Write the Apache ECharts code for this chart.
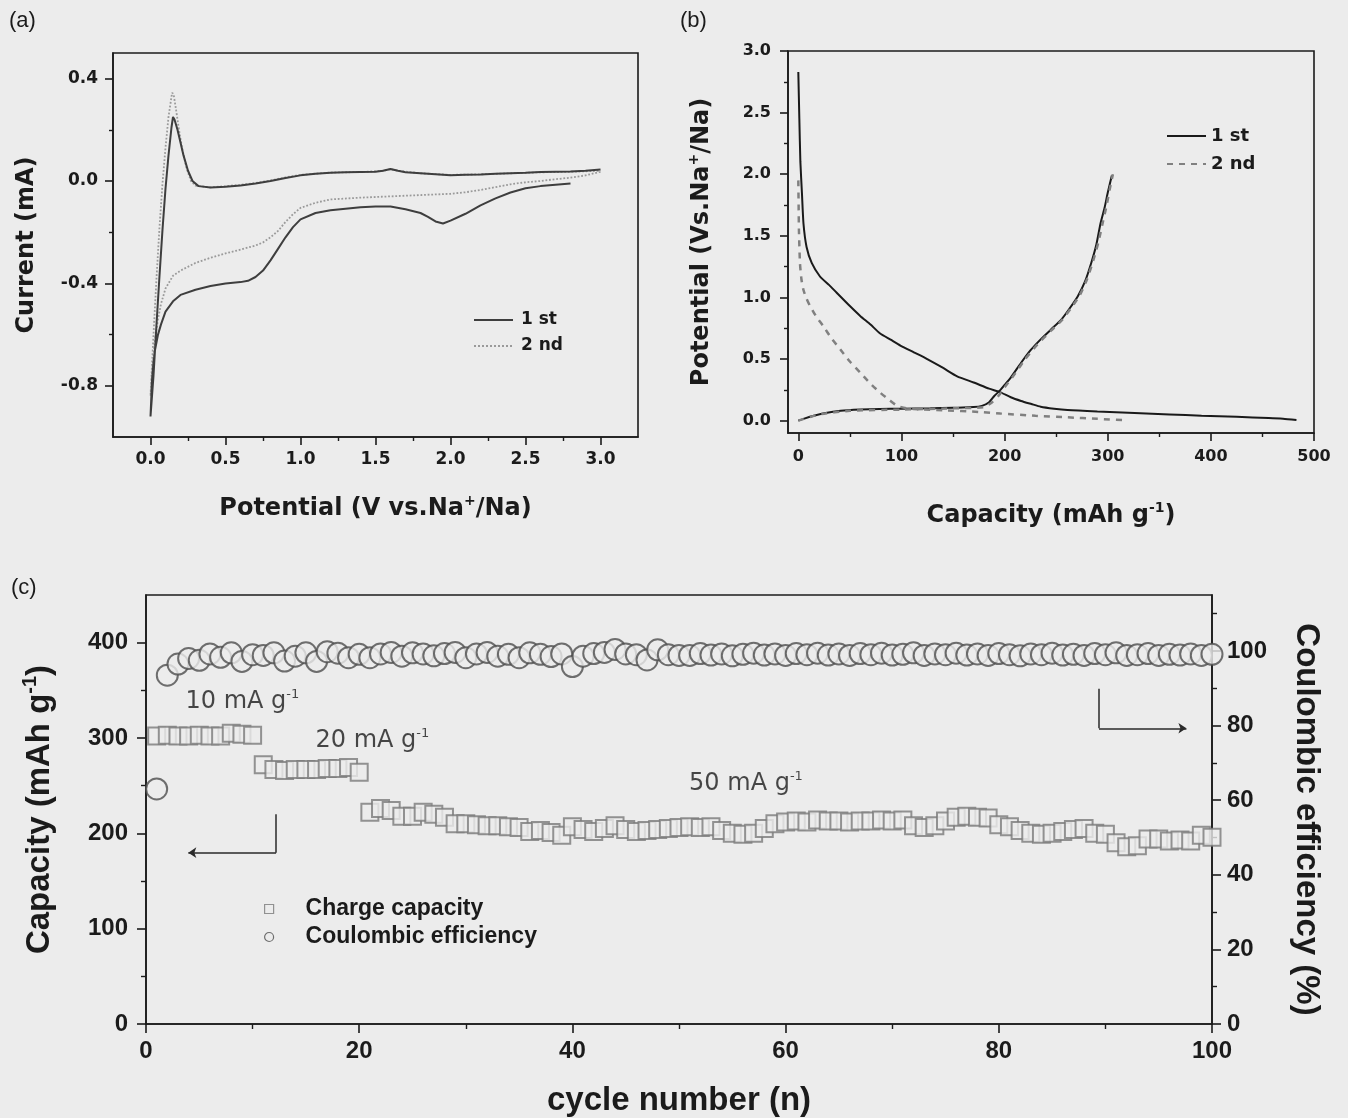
<!DOCTYPE html>
<html><head><meta charset="utf-8">
<script src="https://cdn.jsdelivr.net/npm/echarts@6/dist/echarts.min.js"></script>
<style>html,body{margin:0;padding:0;background:#ececec;}#c{width:1348px;height:1118px;}</style>
</head><body><div id="c"></div>
<script>
// ---------- (a) cyclic voltammetry ----------
const cv1Potential = [2.80,2.70,2.60,2.50,2.40,2.30,2.20,2.10,2.00,1.95,1.90,1.85,1.80,1.70,1.60,1.50,1.40,1.30,1.20,1.10,1.00,0.95,0.90,0.85,0.80,0.75,0.70,0.65,0.60,0.50,0.40,0.30,0.20,0.15,0.10,0.07,0.05,0.03,0.02,0.01,0.00,
  0.02,0.04,0.06,0.08,0.10,0.12,0.14,0.15,0.16,0.18,0.20,0.22,0.25,0.28,0.32,0.40,0.50,0.60,0.70,0.80,0.90,1.00,1.10,1.20,1.30,1.40,1.50,1.55,1.60,1.65,1.70,1.80,1.90,2.00,2.10,2.20,2.30,2.40,2.50,2.60,2.70,2.80,2.90,3.00];
const cv1Current = [-0.010,-0.015,-0.020,-0.028,-0.045,-0.068,-0.095,-0.128,-0.155,-0.166,-0.158,-0.140,-0.125,-0.110,-0.100,-0.100,-0.103,-0.108,-0.114,-0.125,-0.150,-0.180,-0.220,-0.265,-0.310,-0.350,-0.375,-0.390,-0.395,-0.400,-0.410,-0.425,-0.445,-0.470,-0.510,-0.560,-0.600,-0.660,-0.710,-0.780,-0.920,
  -0.760,-0.560,-0.370,-0.190,-0.030,0.100,0.210,0.250,0.240,0.200,0.150,0.100,0.040,0.000,-0.020,-0.025,-0.022,-0.018,-0.010,0.000,0.012,0.022,0.028,0.032,0.034,0.035,0.036,0.040,0.047,0.040,0.034,0.030,0.026,0.022,0.024,0.025,0.028,0.030,0.032,0.035,0.036,0.037,0.040,0.045];
const cv2Potential = [3.00,2.90,2.80,2.70,2.60,2.50,2.40,2.30,2.20,2.10,2.00,1.80,1.60,1.40,1.20,1.10,1.00,0.95,0.90,0.85,0.80,0.75,0.70,0.60,0.50,0.40,0.30,0.20,0.15,0.10,0.07,0.05,0.03,0.02,0.01,0.00,
  0.02,0.04,0.06,0.08,0.10,0.12,0.14,0.145,0.155,0.17,0.19,0.21,0.24,0.27,0.30,0.40,0.50,0.60,0.70,0.80,0.90,1.00,1.20,1.40,1.55,1.60,1.65,1.80,2.00,2.20,2.40,2.60,2.80,3.00];
const cv2Current = [0.036,0.022,0.013,0.007,0.000,-0.005,-0.013,-0.024,-0.035,-0.044,-0.050,-0.055,-0.060,-0.065,-0.072,-0.085,-0.105,-0.130,-0.160,-0.195,-0.220,-0.240,-0.252,-0.268,-0.283,-0.300,-0.320,-0.350,-0.370,-0.420,-0.480,-0.540,-0.620,-0.680,-0.750,-0.840,
  -0.600,-0.380,-0.180,-0.010,0.130,0.250,0.330,0.345,0.335,0.280,0.200,0.130,0.050,0.000,-0.018,-0.025,-0.020,-0.015,-0.008,0.002,0.014,0.024,0.033,0.035,0.040,0.046,0.040,0.030,0.024,0.026,0.030,0.034,0.036,0.040];
const cvPotentialTicks = [0.0,0.5,1.0,1.5,2.0,2.5,3.0];
const cvCurrentTicks = [-0.8,-0.4,0.0,0.4];

// ---------- (b) charge / discharge ----------
const dis1Capacity = [0,1,2,3.5,5,8,13,21,30,37,50,60,70,79,90,99,112,125,140,154,170,185,196,206,216,226,235,248,261,290,326,360,391,425,456,470,483];
const dis1Potential = [2.83,2.45,2.10,1.85,1.60,1.41,1.28,1.17,1.10,1.04,0.93,0.85,0.78,0.71,0.655,0.61,0.555,0.50,0.43,0.36,0.31,0.26,0.23,0.19,0.16,0.135,0.113,0.097,0.086,0.074,0.062,0.051,0.040,0.031,0.022,0.016,0.006];
const chg1Capacity = [0,5,15,25,41,60,79,100,128,150,170,178,185,190,196,200,206,216,225,235,245,255,263,271,278,284,289,293,297,300,304];
const chg1Potential = [0.00,0.015,0.04,0.06,0.08,0.09,0.095,0.097,0.10,0.105,0.11,0.12,0.15,0.20,0.25,0.29,0.35,0.47,0.57,0.66,0.74,0.82,0.91,1.01,1.13,1.28,1.43,1.60,1.73,1.85,1.99];
const dis2Capacity = [0,0.3,0.6,1.6,3,5,8,11.4,17,24,32,40.6,50,60,70,79,88,96,105,118,140,177,196,230,261,290,316];
const dis2Potential = [1.95,1.75,1.55,1.28,1.15,1.06,0.99,0.93,0.85,0.77,0.67,0.58,0.48,0.39,0.30,0.23,0.17,0.12,0.10,0.092,0.085,0.07,0.058,0.04,0.027,0.015,0.005];
const chg2Capacity = [0,20,50,100,150,180,188,194,200,210,220,232,245,256,265,273,280,286,291,295,299,302,305];
const chg2Potential = [0.00,0.05,0.08,0.09,0.10,0.11,0.15,0.20,0.27,0.38,0.50,0.62,0.73,0.82,0.92,1.02,1.15,1.30,1.45,1.60,1.75,1.88,2.00];
const gcdCapacityTicks = [0,100,200,300,400,500];
const gcdPotentialTicks = [0.0,0.5,1.0,1.5,2.0,2.5,3.0];

// ---------- (c) cycling ----------
const cycleNumbers = [1,2,3,4,5,6,7,8,9,10,11,12,13,14,15,16,17,18,19,20,21,22,23,24,25,26,27,28,29,30,31,32,33,34,35,36,37,38,39,40,41,42,43,44,45,46,47,48,49,50,51,52,53,54,55,56,57,58,59,60,61,62,63,64,65,66,67,68,69,70,71,72,73,74,75,76,77,78,79,80,81,82,83,84,85,86,87,88,89,90,91,92,93,94,95,96,97,98,99,100];
const chargeCapacity = [302,303,302,302,303,302,302,305,304,303,
  272,267,266,267,267,267,268,268,269,264,
  222,226,224,218,218,222,220,217,210,210,
  209,208,208,207,206,202,203,201,198,207,
  204,202,205,208,204,202,203,204,205,206,
  207,206,207,203,200,199,200,205,210,212,
  213,212,214,213,213,212,213,213,214,213,
  214,208,206,208,213,217,218,217,216,209,
  207,203,200,199,200,202,204,205,200,199,
  190,186,187,194,194,192,193,192,198,196];
const coulombicEfficiency = [63,93.5,96.5,98,97.5,99.2,98.3,99.5,97.2,99,
  98.8,99.5,97.3,98.6,99.5,97.2,99.8,99.4,98.2,99.1,
  98.2,99.2,99.6,98.6,99.5,99.2,98.7,99.3,99.6,98.2,
  99.2,99.6,98.6,99.1,98.2,99.5,99.1,98.5,99.2,95.8,
  98.6,99.3,99.6,100.4,99.2,99.0,97.6,100.3,99.0,98.8,
  98.8,99.3,98.9,99.2,98.7,99.1,99.4,98.9,99.2,98.8,
  99.3,99.0,99.4,98.9,99.2,98.8,99.3,99.0,99.4,98.9,
  99.1,99.5,98.8,99.2,99.0,99.4,98.9,99.2,98.8,99.3,
  99.0,98.7,99.2,99.0,99.4,98.9,99.1,98.8,99.3,99.0,
  99.5,98.8,99.0,99.3,98.8,99.1,98.9,99.2,98.8,99.1];
const rateLabels = ['10','20','50'];
const cycleTicks = [0,20,40,60,80,100];
const capacityTicks = [0,100,200,300,400];
const ceTicks = [0,20,40,60,80,100];

// ---------- helpers ----------
const INK = '#1b1b1b';
const BG = '#ececec';
const FW = '"DejaVu Sans", Verdana, sans-serif';          // panels (a),(b)
const FN = '"Liberation Sans", Arial, Helvetica, sans-serif'; // panel (c)
const zip = (a, b) => a.map((v, i) => [v, b[i]]);
const mids = a => a.slice(1).map((v, i) => (v + a[i]) / 2);

function nameStyle(fs, font, pad) {
  const st = {
    color: INK, fontFamily: font, fontWeight: 'bold', fontSize: fs,
    rich: {
      t: {color: INK, fontFamily: font, fontWeight: 'bold', fontSize: fs, lineHeight: fs + 6},
      s: {color: INK, fontFamily: font, fontWeight: 'bold', fontSize: Math.round(fs * 0.6), lineHeight: Math.round(fs * 0.6), verticalAlign: 'top'}
    }
  };
  if (pad) st.padding = pad;
  return st;
}
function mainAxis(o) {
  const ax = {
    type: 'value', gridIndex: o.grid, min: o.min, max: o.max, position: o.position,
    splitLine: {show: false},
    axisLine: {show: true, onZero: false, lineStyle: {color: INK, width: 1.6}},
    axisTick: {show: true, inside: false, length: o.tickLen, customValues: o.ticks, lineStyle: {color: INK, width: 1.6}},
    axisLabel: {show: true, customValues: o.ticks, color: INK, fontFamily: o.font, fontWeight: 'bold', fontSize: o.fs, margin: o.margin, formatter: o.fmt},
    name: o.name, nameLocation: 'middle', nameGap: o.nameGap, nameTextStyle: nameStyle(o.nameFs, o.font, o.namePad)
  };
  if (o.nameRotate !== undefined) ax.nameRotate = o.nameRotate;
  return ax;
}
function minorAxis(o) {
  return {
    type: 'value', gridIndex: o.grid, min: o.min, max: o.max, position: o.position,
    splitLine: {show: false},
    axisLine: {show: false, onZero: false},
    axisTick: {show: true, inside: false, length: o.tickLen, customValues: o.ticks, lineStyle: {color: INK, width: 1.4}},
    axisLabel: {show: false}
  };
}
const f1 = v => v.toFixed(1);
const f0 = v => String(Math.round(v));
const legendText = (fs, font, lh) => ({color: INK, fontFamily: font, fontWeight: 'bold', fontSize: fs, lineHeight: lh});

const option = {
  backgroundColor: BG,
  animation: false,
  title: [
    {text: '(a)', left: 9, top: 10, padding: 0, textStyle: {color: INK, fontFamily: FN, fontWeight: 'normal', fontSize: 22}},
    {text: '(b)', left: 680, top: 10, padding: 0, textStyle: {color: INK, fontFamily: FN, fontWeight: 'normal', fontSize: 22}},
    {text: '(c)', left: 11, top: 577, padding: 0, textStyle: {color: INK, fontFamily: FN, fontWeight: 'normal', fontSize: 22}}
  ],
  grid: [
    {left: 113, top: 53, width: 525, height: 384, show: true, borderColor: INK, borderWidth: 1.6, backgroundColor: 'transparent'},
    {left: 788, top: 51, width: 526, height: 382, show: true, borderColor: INK, borderWidth: 1.6, backgroundColor: 'transparent'},
    {left: 146, top: 595, width: 1066, height: 429, show: true, borderColor: INK, borderWidth: 1.6, backgroundColor: 'transparent'}
  ],
  xAxis: [
    mainAxis({grid: 0, min: -0.25, max: 3.25, position: 'bottom', ticks: cvPotentialTicks, tickLen: 8, fs: 17, margin: 14, fmt: f1, font: FW,
      name: '{t|Potential (V vs.Na}{s|+}{t|/Na)}', nameGap: 57, nameFs: 24}),
    minorAxis({grid: 0, min: -0.25, max: 3.25, position: 'bottom', ticks: mids(cvPotentialTicks), tickLen: 4}),
    mainAxis({grid: 1, min: -10, max: 500, position: 'bottom', ticks: gcdCapacityTicks, tickLen: 8, fs: 16, margin: 16, fmt: f0, font: FW,
      name: '{t|Capacity (mAh g}{s|-1}{t|)}', nameGap: 68, nameFs: 24}),
    minorAxis({grid: 1, min: -10, max: 500, position: 'bottom', ticks: mids(gcdCapacityTicks), tickLen: 4}),
    mainAxis({grid: 2, min: 0, max: 100, position: 'bottom', ticks: cycleTicks, tickLen: 9, fs: 24, margin: 15, fmt: f0, font: FN,
      name: 'cycle number (n)', nameGap: 60, nameFs: 33}),
    minorAxis({grid: 2, min: 0, max: 100, position: 'bottom', ticks: mids(cycleTicks), tickLen: 5})
  ],
  yAxis: [
    mainAxis({grid: 0, min: -1.0, max: 0.5, position: 'left', ticks: cvCurrentTicks, tickLen: 8, fs: 17, margin: 15, fmt: f1, font: FW,
      name: 'Current (mA)', nameGap: 74, nameFs: 24}),
    minorAxis({grid: 0, min: -1.0, max: 0.5, position: 'left', ticks: mids(cvCurrentTicks), tickLen: 4}),
    mainAxis({grid: 1, min: -0.1, max: 3.0, position: 'left', ticks: gcdPotentialTicks, tickLen: 8, fs: 16, margin: 17, fmt: f1, font: FW,
      name: '{t|Potential (Vs.Na}{s|+}{t|/Na)}', nameGap: 71, nameFs: 24}),
    minorAxis({grid: 1, min: -0.1, max: 3.0, position: 'left', ticks: mids(gcdPotentialTicks), tickLen: 4}),
    mainAxis({grid: 2, min: 0, max: 450, position: 'left', ticks: capacityTicks, tickLen: 9, fs: 24, margin: 18, fmt: f0, font: FN,
      name: '{t|Capacity (mAh g}{s|-1}{t|)}', nameGap: 87, nameFs: 33}),
    minorAxis({grid: 2, min: 0, max: 450, position: 'left', ticks: mids(capacityTicks), tickLen: 5}),
    mainAxis({grid: 2, min: 0, max: 115, position: 'right', ticks: ceTicks, tickLen: 9, fs: 24, margin: 15, fmt: f0, font: FN,
      name: 'Coulombic efficiency (%)', nameGap: 78, nameFs: 33, nameRotate: -90, namePad: [0, 0, 0, 20]}),
    minorAxis({grid: 2, min: 0, max: 115, position: 'right', ticks: mids(ceTicks).concat([110]), tickLen: 5})
  ],
  legend: [
    {data: ['1 st', '2 nd'], left: 473, top: 310, orient: 'vertical', padding: 0, itemWidth: 39, itemHeight: 12, itemGap: 6,
      selectedMode: false, itemStyle: {opacity: 0},
      textStyle: Object.assign(legendText(17, FW, 20), {padding: [0, 0, 0, 3]})},
    {data: ['1 st ', '2 nd '], left: 1166, top: 126, orient: 'vertical', padding: 0, itemWidth: 39, itemHeight: 12, itemGap: 8,
      selectedMode: false, itemStyle: {opacity: 0},
      textStyle: legendText(18, FW, 20)},
    {data: [{name: 'Charge capacity', icon: 'rect'}, {name: 'Coulombic efficiency', icon: 'circle'}],
      left: 264, top: 897, orient: 'vertical', padding: 0, itemWidth: 9, itemHeight: 9, itemGap: 4,
      itemStyle: {borderWidth: 1.2}, selectedMode: false,
      textStyle: Object.assign(legendText(23, FN, 24), {padding: [0, 0, 0, 27]})}
  ],
  series: [
    // (a)
    {name: '2 nd', type: 'line', xAxisIndex: 0, yAxisIndex: 0, data: zip(cv2Potential, cv2Current), symbol: 'none', z: 2,
      lineStyle: {color: '#9a9a9a', width: 1.8, type: 'dotted'}},
    {name: '1 st', type: 'line', xAxisIndex: 0, yAxisIndex: 0, data: zip(cv1Potential, cv1Current), symbol: 'none', z: 3,
      lineStyle: {color: '#3e3e3e', width: 2}},
    // (b)
    {name: '1 st ', type: 'line', xAxisIndex: 2, yAxisIndex: 2, data: zip(dis1Capacity, dis1Potential), symbol: 'none', smooth: 0.2,
      lineStyle: {color: '#1a1a1a', width: 2}},
    {name: '1 st ', type: 'line', xAxisIndex: 2, yAxisIndex: 2, data: zip(chg1Capacity, chg1Potential), symbol: 'none', smooth: 0.2,
      lineStyle: {color: '#1a1a1a', width: 2}},
    {name: '2 nd ', type: 'line', xAxisIndex: 2, yAxisIndex: 2, data: zip(dis2Capacity, dis2Potential), symbol: 'none', smooth: 0.2,
      lineStyle: {color: '#808080', width: 2.5, type: [6, 6]}},
    {name: '2 nd ', type: 'line', xAxisIndex: 2, yAxisIndex: 2, data: zip(chg2Capacity, chg2Potential), symbol: 'none', smooth: 0.2,
      lineStyle: {color: '#808080', width: 2.5, type: [6, 6]}},
    // (c)
    {name: 'Charge capacity', type: 'scatter', xAxisIndex: 4, yAxisIndex: 4, data: zip(cycleNumbers, chargeCapacity),
      symbol: 'rect', symbolSize: 17, itemStyle: {color: BG, borderColor: '#7a7a7a', borderWidth: 2}},
    {name: 'Coulombic efficiency', type: 'scatter', xAxisIndex: 4, yAxisIndex: 6, data: zip(cycleNumbers, coulombicEfficiency),
      symbol: 'circle', symbolSize: 21, itemStyle: {color: BG, borderColor: '#4e4e4e', borderWidth: 2}},
    {name: 'arrowStems', type: 'lines', coordinateSystem: 'cartesian2d', xAxisIndex: 4, yAxisIndex: 4, silent: true,
      symbol: ['none', 'none'], z: 5,
      lineStyle: {color: '#2a2a2a', width: 1.5, opacity: 1, curveness: 0},
      data: [{coords: [[12.2, 220], [12.2, 179.7]]}, {coords: [[89.4, 351.6], [89.4, 310.2]]}]},
    {name: 'arrowHeads', type: 'lines', coordinateSystem: 'cartesian2d', xAxisIndex: 4, yAxisIndex: 4, silent: true,
      symbol: ['none', 'arrow'], symbolSize: 8, z: 5,
      lineStyle: {color: '#2a2a2a', width: 1.5, opacity: 1, curveness: 0},
      data: [{coords: [[12.2, 179.7], [3.97, 179.7]]}, {coords: [[89.4, 310.2], [97.6, 310.2]]}]},
    {name: 'rates', type: 'scatter', xAxisIndex: 4, yAxisIndex: 4, silent: true, symbolSize: 1,
      itemStyle: {color: 'transparent'},
      data: [[3.66, 338], [15.85, 297.2], [50.9, 251.6]],
      label: {show: true, position: 'right', distance: 0,
        formatter: p => '{t|' + rateLabels[p.dataIndex] + ' mA g}{s|-1}',
        rich: {
          t: {color: INK, fontFamily: FW, fontSize: 24, lineHeight: 28},
          s: {color: INK, fontFamily: FW, fontSize: 13, lineHeight: 13, verticalAlign: 'top'}
        }}}
  ]
};
const chart = echarts.init(document.getElementById('c'), null, {renderer: 'canvas'});
chart.setOption(option);
</script></body></html>
